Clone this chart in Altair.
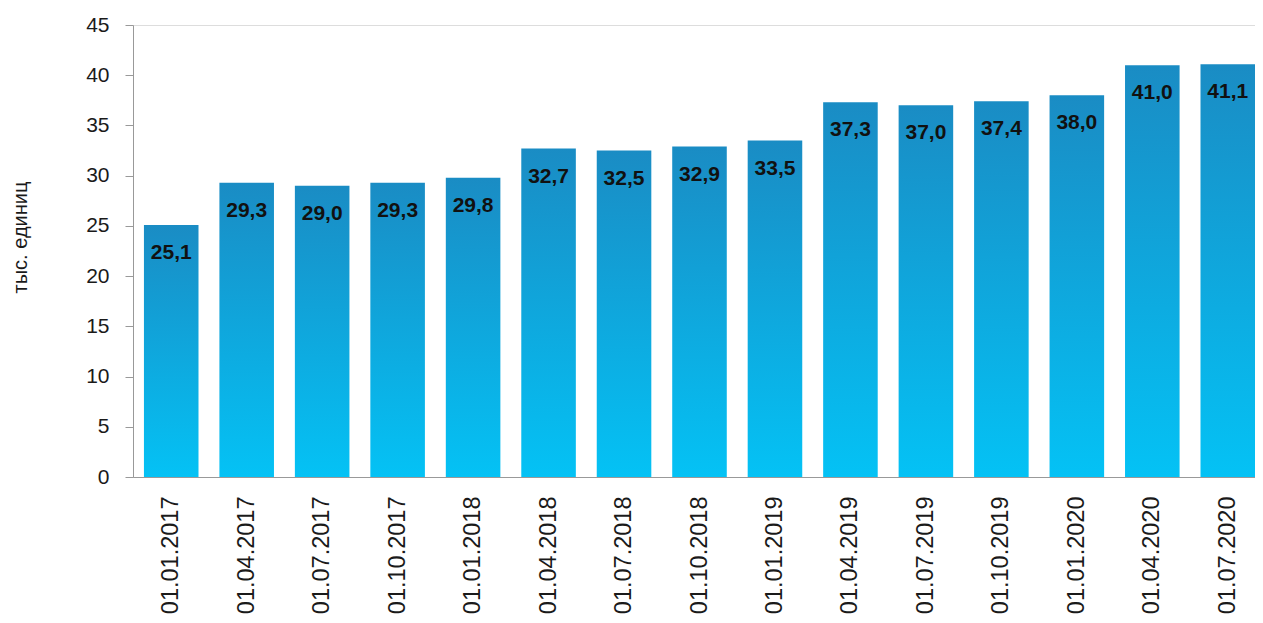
import altair as alt
import pandas as pd

dates = ["01.01.2017", "01.04.2017", "01.07.2017", "01.10.2017", "01.01.2018",
         "01.04.2018", "01.07.2018", "01.10.2018", "01.01.2019", "01.04.2019",
         "01.07.2019", "01.10.2019", "01.01.2020", "01.04.2020", "01.07.2020"]
values = [25.1, 29.3, 29.0, 29.3, 29.8, 32.7, 32.5, 32.9, 33.5, 37.3,
          37.0, 37.4, 38.0, 41.0, 41.1]
labels = [f"{v:.1f}".replace(".", ",") for v in values]

df = pd.DataFrame({"date": dates, "value": values, "label": labels})

FONT = "Liberation Sans, Arial"

x = alt.X("date:N", sort=dates,
          scale=alt.Scale(paddingInner=0.277, paddingOuter=0.145, range=[0, 1133]),
          axis=alt.Axis(title=None, labelAngle=-90, labelAlign="right",
                        labelBaseline="middle", labelFont=FONT, labelFontSize=23.5,
                        labelColor="#1a1a1a", labelPadding=19, ticks=False,
                        domainColor="#999999", domainWidth=1))
y = alt.Y("value:Q",
          scale=alt.Scale(domain=[0, 45], nice=False),
          axis=alt.Axis(title="тыс. единиц", values=list(range(0, 50, 5)),
                        grid=False, labelFont=FONT, labelFontSize=21,
                        labelColor="#1a1a1a", labelPadding=16, tickSize=8,
                        tickColor="#999999", domainColor="#999999",
                        titleFont=FONT, titleFontSize=20, titleFontWeight="normal",
                        titleColor="#1a1a1a", titleX=-103, titleY=212,
                        titleAngle=-90))

bars = alt.Chart(df).mark_bar(
    color=alt.Gradient(
        gradient="linear",
        stops=[alt.GradientStop(color="#1a8cc4", offset=0),
               alt.GradientStop(color="#04c2f5", offset=1)],
        x1=0, x2=0, y1=0, y2=1)
).encode(x=x, y=y)

text = alt.Chart(df).mark_text(
    font=FONT, fontSize=21, fontWeight="bold", color="#111111",
    baseline="middle", dy=28
).encode(x=alt.X("date:N", sort=dates), y="value:Q", text="label:N")

chart = alt.layer(bars, text).properties(
    width=1122, height=452,
    autosize=alt.AutoSizeParams(type="none"),
    padding={"left": 125, "top": 17, "right": 0, "bottom": 138}
).configure_view(stroke=None, clip=False).configure(background="white")

chart.save("out.html", embed_options={"renderer": "svg", "actions": False})
